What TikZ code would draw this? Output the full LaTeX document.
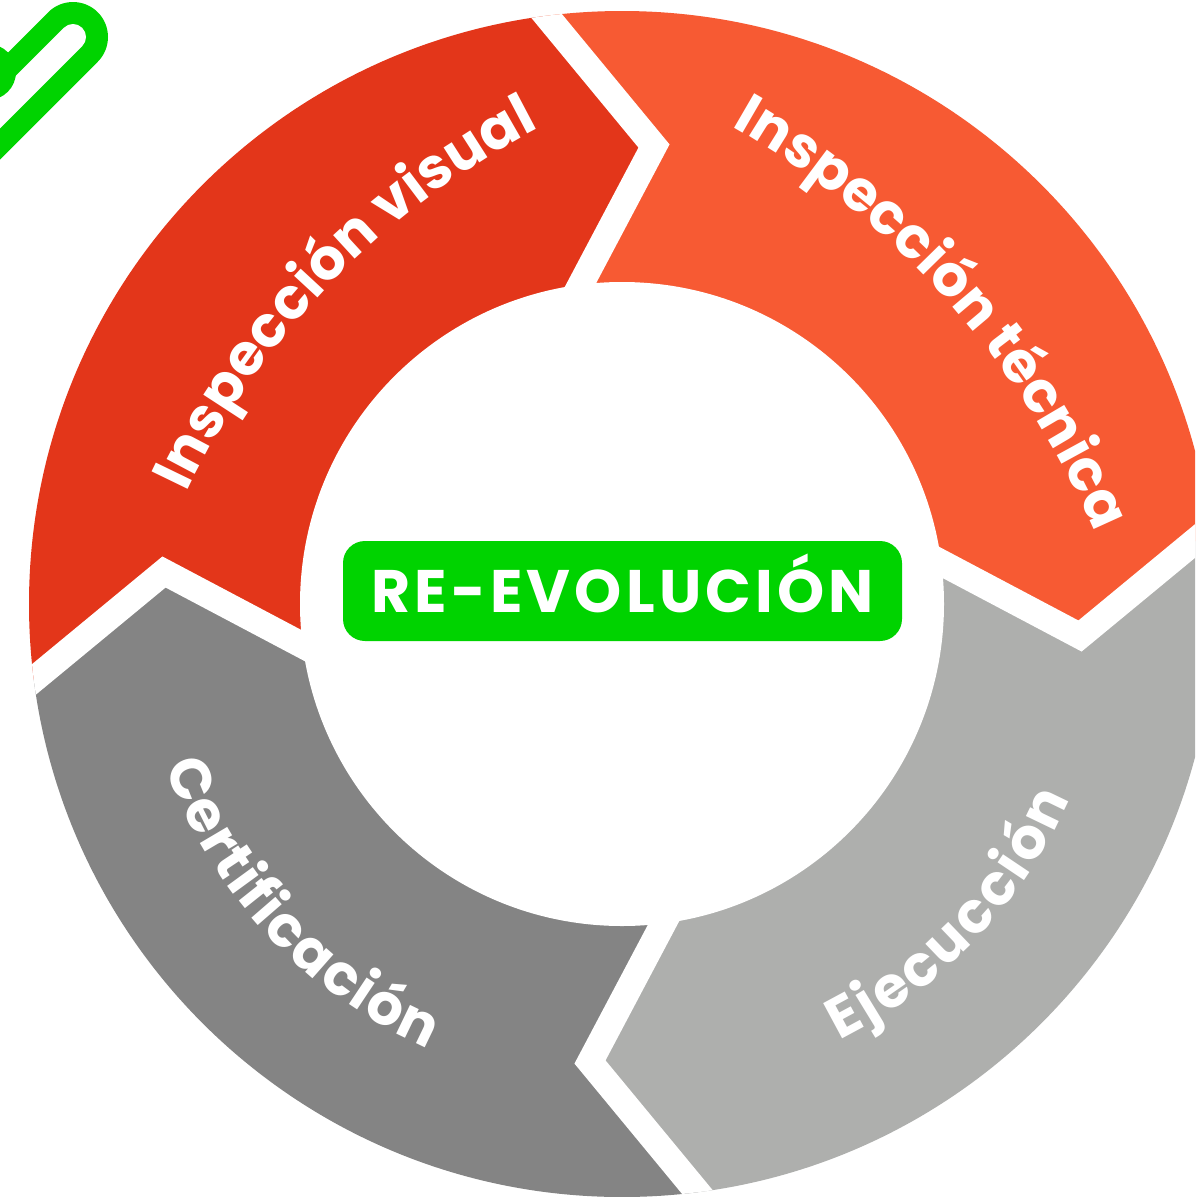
\documentclass[tikz,border=0pt]{standalone}
\usepackage{fontspec}
\setmainfont{Poppins}
\usetikzlibrary{decorations.text}
\definecolor{cred}{RGB}{227,54,26}
\definecolor{corange}{RGB}{247,90,51}
\definecolor{clgrey}{RGB}{174,175,173}
\definecolor{cdgrey}{RGB}{132,132,132}
\definecolor{cgreen}{RGB}{0,211,0}
\newcommand\segfont{\fontsize{57}{57}\selectfont\bfseries}
\begin{document}
\begin{tikzpicture}[x=1pt,y=-1pt,
  gapline/.style={white, line width=26pt, line join=miter},
  arctext/.style={decorate, decoration={text along path, text align=fit to path, text color=white, text={|\segfont|#1}}}]
\useasboundingbox (0,0) rectangle (1195,1197);
\clip (0,0) rectangle (1195,1197);
\fill[white] (0,0) rectangle (1195,1197);
% check mark fragment (top-left)
\draw[cgreen, line width=70pt, line cap=round] (73,37) -- (-60,170);
\draw[white, line width=26pt, line cap=round] (73,37) -- (-60,170);
\fill[cgreen] (-12,72) circle (28);
% ring
\begin{scope}[shift={(622,604)}]
  \begin{scope}
    \clip (0,0) circle (593);
    \fill[cred] (0,0) -- (-237.2,84.8) -- (-458,-32) -- (-669.2,142.4) -- (-900,-900) -- (-142.4,-669.2) -- (32,-458) -- (-84.8,-237.2) -- cycle;
    \fill[corange] (0,0) -- (-84.8,-237.2) -- (32,-458) -- (-142.4,-669.2) -- (900,-900) -- (669.2,-142.4) -- (458,32) -- (237.2,-84.8) -- cycle;
    \fill[clgrey] (0,0) -- (237.2,-84.8) -- (458,32) -- (669.2,-142.4) -- (900,900) -- (142.4,669.2) -- (-32,458) -- (84.8,237.2) -- cycle;
    \fill[cdgrey] (0,0) -- (84.8,237.2) -- (-32,458) -- (142.4,669.2) -- (-900,900) -- (-669.2,142.4) -- (-458,-32) -- (-237.2,84.8) -- cycle;
    \draw[gapline] (-142.4,-669.2) -- (32,-458) -- (-84.8,-237.2);
    \draw[gapline] (669.2,-142.4) -- (458,32) -- (237.2,-84.8);
    \draw[gapline] (142.4,669.2) -- (-32,458) -- (84.8,237.2);
    \draw[gapline] (-669.2,142.4) -- (-458,-32) -- (-237.2,84.8);
  \end{scope}
  \fill[white] (0,0) circle (322);
\end{scope}
% curved labels
\path[arctext={Inspección visual}] (900,830) ++(205.3:789) arc[start angle=205.3, end angle=242.8, radius=789];
\path[arctext={Inspección técnica}] (310,869) ++(-60.4:854) arc[start angle=-60.4, end angle=-23.3, radius=854];
\path[arctext={Ejecucción}] (622,604) ++(63.5:488) arc[start angle=63.5, end angle=23.5, radius=488];
\path[arctext={Certificación}] (622,604) ++(160.5:485) arc[start angle=160.5, end angle=113.5, radius=485];
% centre label
\node (centre) [fill=cgreen, rounded corners=22pt, minimum width=559pt, minimum height=100pt, inner sep=0pt,
  text=white, font=\fontsize{60}{60}\selectfont\bfseries\addfontfeature{LetterSpace=7}, text height=42pt, text depth=0pt]
  at (622.5,591) {RE-EVOLUCIÓN};
\end{tikzpicture}
\end{document}
